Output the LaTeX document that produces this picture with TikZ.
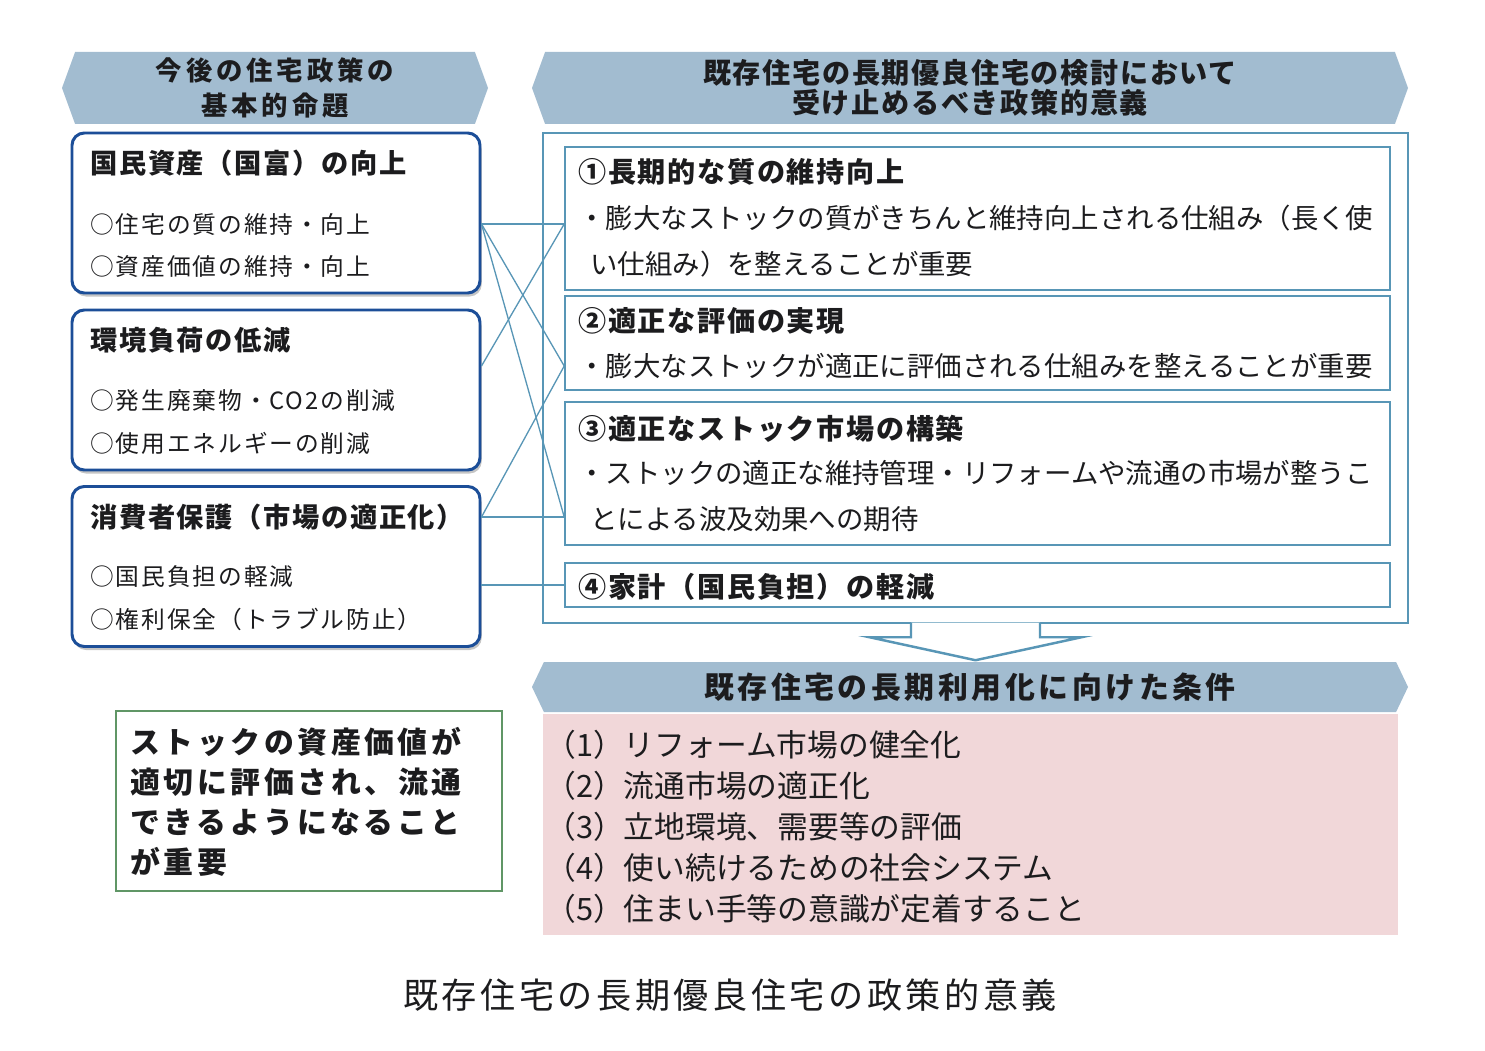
\documentclass[tikz,border=0pt]{standalone}
\usepackage{fontspec}
\setmainfont{Noto Sans CJK JP}
\usetikzlibrary{shapes.symbols,shadows,calc}

\definecolor{bannerBlue}{RGB}{162,188,208}
\definecolor{boxNavy}{RGB}{28,78,152}
\definecolor{frameTeal}{RGB}{88,150,182}
\definecolor{condPink}{RGB}{241,215,217}
\definecolor{noteGreen}{RGB}{96,150,102}
\definecolor{inkBlack}{RGB}{28,28,30}

\begin{document}
\begin{tikzpicture}[
    font=\fontsize{14pt}{17pt}\selectfont,
    banner/.style={
        signal,
        signal to=west and east,
        signal pointer angle=140,
        fill=bannerBlue,
        draw=none,
        align=center,
        inner sep=2pt,
        text=inkBlack,
        font=\fontsize{15pt}{19.4pt}\selectfont\bfseries\addfontfeatures{LetterSpace=15}
    },
    policyBox/.style={
        rectangle,
        draw=boxNavy,
        fill=white,
        line width=1.7pt,
        rounded corners=7pt,
        minimum width=8.16cm,
        minimum height=3.2cm,
        drop shadow={opacity=0.45,shadow xshift=1pt,shadow yshift=-2pt}
    },
    boxTitle/.style={
        anchor=west,
        inner sep=0pt,
        text=inkBlack,
        font=\fontsize{15.5pt}{18pt}\selectfont\bfseries\addfontfeatures{LetterSpace=6}
    },
    boxItem/.style={
        anchor=west,
        inner sep=0pt,
        text=inkBlack,
        font=\fontsize{13.5pt}{16pt}\selectfont\addfontfeatures{LetterSpace=8}
    },
    policyFrame/.style={
        rectangle,
        draw=frameTeal,
        fill=white,
        line width=1.4pt,
        minimum width=17.3cm,
        minimum height=9.8cm
    },
    meritBox/.style={
        rectangle,
        draw=frameTeal,
        line width=0.9pt,
        minimum width=16.5cm
    },
    meritTitle/.style={
        anchor=west,
        inner sep=0pt,
        text=inkBlack,
        font=\fontsize{16pt}{19pt}\selectfont\bfseries\addfontfeatures{LetterSpace=6}
    },
    meritText/.style={
        anchor=west,
        inner sep=0pt,
        text=inkBlack,
        font=\fontsize{15.6pt}{19pt}\selectfont
    },
    linkLine/.style={
        draw=frameTeal,
        line width=0.75pt
    },
    blockArrow/.style={
        draw=frameTeal,
        fill=white,
        line width=1.4pt,
        line join=miter
    },
    condBox/.style={
        rectangle,
        fill=condPink,
        minimum width=17.1cm,
        minimum height=4.42cm
    },
    condText/.style={
        anchor=west,
        inner sep=0pt,
        text=inkBlack,
        font=\fontsize{17.5pt}{20pt}\selectfont
    },
    noteBox/.style={
        rectangle,
        draw=noteGreen,
        fill=white,
        line width=1.7pt,
        minimum width=7.72cm,
        minimum height=3.6cm
    },
    noteText/.style={
        anchor=west,
        align=left,
        inner sep=0pt,
        text=inkBlack,
        font=\fontsize{17pt}{22.8pt}\selectfont\bfseries\addfontfeatures{LetterSpace=12}
    },
    captionText/.style={
        text=inkBlack,
        font=\fontsize{20pt}{24pt}\selectfont\addfontfeatures{LetterSpace=10}
    }
]

\useasboundingbox (0,0) rectangle (29.7,21);
\fill[white] (0,0) rectangle (29.7,21);

% ==================== LEFT COLUMN: BASIC PROPOSITIONS ====================
\node[banner, minimum width=8.52cm, minimum height=1.44cm] (leftHead) at (5.50, 19.24) {今後の住宅政策の\\基本的命題};

\node[policyBox] (natAsset) at (5.52, 16.74) {};
\node[boxTitle] (assetTitle) at (1.80, 17.74) {国民資産（国富）の向上};
\node[boxItem] (assetItemA) at (1.80, 16.52) {○住宅の質の維持・向上};
\node[boxItem] (assetItemB) at (1.80, 15.68) {○資産価値の維持・向上};

\node[policyBox] (envBox) at (5.52, 13.20) {};
\node[boxTitle] (envTitle) at (1.80, 14.20) {環境負荷の低減};
\node[boxItem] (envItemA) at (1.80, 12.98) {○発生廃棄物・CO2の削減};
\node[boxItem] (envItemB) at (1.80, 12.14) {○使用エネルギーの削減};

\node[policyBox] (consBox) at (5.52, 9.67) {};
\node[boxTitle] (consTitle) at (1.80, 10.66) {消費者保護（市場の適正化）};
\node[boxItem] (consItemA) at (1.80, 9.46) {○国民負担の軽減};
\node[boxItem] (consItemB) at (1.80, 8.62) {○権利保全（トラブル防止）};

% ==================== RIGHT COLUMN: POLICY MEANING ====================
\node[banner, minimum width=17.52cm, minimum height=1.44cm,
      font=\fontsize{16pt}{17pt}\selectfont\bfseries\addfontfeatures{LetterSpace=6}] (rightHead) at (19.40, 19.24) {既存住宅の長期優良住宅の検討において\\受け止めるべき政策的意義};

\node[policyFrame] (policyFrame) at (19.51, 13.44) {};

\node[meritBox, minimum height=2.86cm] (qualBox) at (19.55, 16.63) {};
\node[meritTitle] (qualTitle) at (11.56, 17.56) {①長期的な質の維持向上};
\node[meritText] (qualLineA) at (11.56, 16.64) {・膨大なストックの質がきちんと維持向上される仕組み（長く使};
\node[meritText] (qualLineB) at (11.80, 15.72) {い仕組み）を整えることが重要};

\node[meritBox, minimum height=1.88cm] (evalBox) at (19.55, 14.14) {};
\node[meritTitle] (evalTitle) at (11.56, 14.58) {②適正な評価の実現};
\node[meritText] (evalLine) at (11.56, 13.68) {・膨大なストックが適正に評価される仕組みを整えることが重要};

\node[meritBox, minimum height=2.86cm] (marketBox) at (19.55, 11.53) {};
\node[meritTitle] (marketTitle) at (11.56, 12.42) {③適正なストック市場の構築};
\node[meritText] (marketLineA) at (11.56, 11.54) {・ストックの適正な維持管理・リフォームや流通の市場が整うこ};
\node[meritText] (marketLineB) at (11.80, 10.62) {とによる波及効果への期待};

\node[meritBox, minimum height=0.88cm] (burdenBox) at (19.55, 9.30) {};
\node[meritTitle] (burdenTitle) at (11.56, 9.26) {④家計（国民負担）の軽減};

% ==================== LINKS ====================
\draw[linkLine] (natAsset.east |- assetItemA) -- (qualBox.west |- assetItemA);
\draw[linkLine] (natAsset.east |- assetItemA) -- (evalBox.west |- evalLine);
\draw[linkLine] (natAsset.east |- assetItemA) -- (marketBox.west |- consTitle);
\draw[linkLine] (envBox.east |- evalLine) -- (qualBox.west |- assetItemA);
\draw[linkLine] (consBox.east |- consTitle) -- (evalBox.west |- evalLine);
\draw[linkLine] (consBox.east |- consTitle) -- (marketBox.west |- consTitle);
\draw[linkLine] (consBox.east |- burdenBox.west) -- (burdenBox.west);

% ==================== CONDITIONS ====================
\node[banner, minimum width=17.52cm, minimum height=1.0cm, signal pointer angle=129,
      font=\fontsize{17pt}{20pt}\selectfont\bfseries\addfontfeatures{LetterSpace=12}] (condHead) at (19.40, 7.26) {既存住宅の長期利用化に向けた条件};

\draw[blockArrow] ($(policyFrame.south)+(-1.29,0.03)$) -- ++(0,-0.29) -- ++(-0.83,0)
    -- ($(policyFrame.south)+(0,-0.72)$) -- ($(policyFrame.south)+(2.12,-0.26)$)
    -- ++(-0.83,0) -- ++(0,0.29);

\node[condBox] (condBox) at (19.41, 4.51) {};
\node[condText] (condOne) at (10.90, 6.10) {（1）リフォーム市場の健全化};
\node[condText] (condTwo) at (10.90, 5.28) {（2）流通市場の適正化};
\node[condText] (condThree) at (10.90, 4.46) {（3）立地環境、需要等の評価};
\node[condText] (condFour) at (10.90, 3.64) {（4）使い続けるための社会システム};
\node[condText] (condFive) at (10.90, 2.82) {（5）住まい手等の意識が定着すること};

% ==================== NOTE & CAPTION ====================
\node[noteBox] (noteBox) at (6.18, 4.98) {};
\node[noteText] (noteLines) at (2.60, 4.97) {ストックの資産価値が\\適切に評価され、流通\\できるようになること\\が重要};

\node[captionText] (caption) at (14.60, 1.10) {既存住宅の長期優良住宅の政策的意義};

\end{tikzpicture}
\end{document}
